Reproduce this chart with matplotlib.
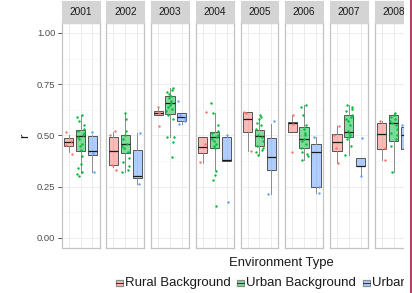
import matplotlib
matplotlib.use("Agg")
import matplotlib.pyplot as plt
from matplotlib.patches import Rectangle
from matplotlib.lines import Line2D
from matplotlib.colors import to_rgba

plt.rcParams['font.family'] = ['Liberation Sans', 'DejaVu Sans']

years = ["2001", "2002", "2003", "2004", "2005", "2006", "2007", "2008"]
groups = ["Rural Background", "Urban Background", "Urban Traffic"]
colors = ["#F8766D", "#00BA38", "#619CFF"]

# box statistics per group, one value per year
rural_q1  = [0.448, 0.356, 0.597, 0.413, 0.517, 0.515, 0.424, 0.433]
rural_med = [0.469, 0.425, 0.608, 0.442, 0.580, 0.558, 0.469, 0.505]
rural_q3  = [0.485, 0.490, 0.620, 0.493, 0.615, 0.563, 0.505, 0.558]
rural_lo  = [0.420, 0.346, 0.597, 0.364, 0.425, 0.515, 0.364, 0.380]
rural_hi  = [0.500, 0.517, 0.636, 0.493, 0.615, 0.600, 0.545, 0.570]

ub_q1  = [0.424, 0.415, 0.603, 0.437, 0.450, 0.437, 0.490, 0.474]
ub_med = [0.497, 0.460, 0.658, 0.490, 0.497, 0.482, 0.517, 0.561]
ub_q3  = [0.526, 0.500, 0.692, 0.517, 0.526, 0.539, 0.600, 0.600]
ub_lo  = [0.317, 0.323, 0.490, 0.330, 0.404, 0.380, 0.404, 0.323]
ub_hi  = [0.600, 0.610, 0.733, 0.610, 0.587, 0.647, 0.647, 0.610]

ut_q1  = [0.404, 0.290, 0.571, 0.377, 0.331, 0.250, 0.348, 0.433]
ut_med = [0.424, 0.300, 0.590, 0.380, 0.393, 0.420, 0.352, 0.500]
ut_q3  = [0.497, 0.430, 0.607, 0.493, 0.488, 0.458, 0.391, 0.542]
ut_lo  = [0.323, 0.264, 0.555, 0.377, 0.215, 0.218, 0.302, 0.430]
ut_hi  = [0.500, 0.510, 0.607, 0.500, 0.555, 0.490, 0.391, 0.560]

# individual observations (r) per group and year
rural_pts = [
    [0.518, 0.41, 0.47, 0.455],
    [0.52, 0.50, 0.355, 0.33],
    [0.636, 0.61, 0.544],
    [0.613, 0.46, 0.37],
    [0.615, 0.61, 0.424],
    [0.60, 0.555, 0.42],
    [0.545, 0.50, 0.44, 0.365],
    [0.57, 0.44, 0.38],
]
ub_pts = [
    [0.60, 0.59, 0.57, 0.55, 0.53, 0.52, 0.51, 0.50, 0.49, 0.48, 0.46, 0.45, 0.43, 0.40, 0.36, 0.34, 0.32, 0.31, 0.30],
    [0.61, 0.58, 0.52, 0.50, 0.48, 0.46, 0.45, 0.44, 0.42, 0.39, 0.37, 0.35, 0.33, 0.32],
    [0.73, 0.72, 0.71, 0.70, 0.69, 0.68, 0.67, 0.66, 0.65, 0.64, 0.63, 0.62, 0.60, 0.58, 0.49, 0.49, 0.466, 0.396],
    [0.658, 0.61, 0.55, 0.52, 0.51, 0.50, 0.49, 0.48, 0.47, 0.46, 0.45, 0.44, 0.328, 0.306, 0.283, 0.157],
    [0.60, 0.59, 0.58, 0.56, 0.55, 0.53, 0.50, 0.49, 0.47, 0.45, 0.44, 0.43, 0.42, 0.404],
    [0.65, 0.64, 0.60, 0.55, 0.53, 0.51, 0.50, 0.48, 0.47, 0.46, 0.44, 0.42, 0.41, 0.40, 0.38],
    [0.65, 0.64, 0.63, 0.62, 0.60, 0.59, 0.58, 0.57, 0.55, 0.52, 0.51, 0.50, 0.49, 0.48, 0.45, 0.404],
    [0.61, 0.60, 0.59, 0.58, 0.57, 0.56, 0.55, 0.53, 0.51, 0.50, 0.48, 0.45, 0.323],
]
ut_pts = [
    [0.517, 0.415, 0.32],
    [0.51, 0.264],
    [0.67, 0.60, 0.585, 0.57, 0.555],
    [0.50, 0.175],
    [0.57, 0.215],
    [0.49, 0.25, 0.218],
    [0.485, 0.30],
    [0.55, 0.44],
]

stats = [
    (rural_q1, rural_med, rural_q3, rural_lo, rural_hi),
    (ub_q1, ub_med, ub_q3, ub_lo, ub_hi),
    (ut_q1, ut_med, ut_q3, ut_lo, ut_hi),
]
points = [rural_pts, ub_pts, ut_pts]

# deterministic jitter pattern (style only)
JIT = [-0.22, 0.15, -0.05, 0.28, -0.30, 0.05, 0.20, -0.15, 0.10, -0.25, 0.25, 0.0, -0.10, 0.30, -0.18, 0.12]

W, H = 412, 293
fig = plt.figure(figsize=(W / 100, H / 100), dpi=100)

panel_left0 = 61.7
panel_step = 44.7
panel_w = 37.8
panel_top = 22.7
panel_bot = 248.0
strip_top = 1.0

grid_c = "#EBEBEB"
border_c = "#C4C4C4"

for i, yr in enumerate(years):
    x0 = panel_left0 + i * panel_step
    ax = fig.add_axes([x0 / W, (H - panel_bot) / H, panel_w / W, (panel_bot - panel_top) / H])
    ax.set_xlim(0.4, 3.6)
    ax.set_ylim(-0.05, 1.05)
    ax.set_yticks([0, 0.25, 0.5, 0.75, 1.0])
    ax.set_yticks([0.125, 0.375, 0.625, 0.875], minor=True)
    ax.set_xticks([1, 2, 3])
    ax.grid(True, which="major", color=grid_c, lw=0.6, zorder=0)
    ax.grid(True, which="minor", axis="y", color="#F4F4F4", lw=0.4, zorder=0)
    ax.set_axisbelow(True)
    for s in ax.spines.values():
        s.set_color(border_c)
        s.set_linewidth(0.9)
    ax.tick_params(axis="x", length=0, labelbottom=False)
    if i == 0:
        ax.tick_params(axis="y", length=3, width=0.6, color="#333333", labelsize=6.8,
                       labelcolor="#4D4D4D", pad=1.5)
        ax.set_yticklabels(["0.00", "0.25", "0.50", "0.75", "1.00"])
        ax.tick_params(axis="y", which="minor", length=0)
        ax.set_ylabel("r", fontsize=9.5, color="#1A1A1A", labelpad=4)
    else:
        ax.tick_params(axis="y", which="both", length=0, labelleft=False)

    for g in range(3):
        q1, med, q3, lo, hi = (a[i] for a in stats[g])
        st = [dict(med=med, q1=q1, q3=q3, whislo=lo, whishi=hi, fliers=[])]
        fc = to_rgba(colors[g], 0.5)
        ax.bxp(st, positions=[g + 1], widths=0.78, patch_artist=True,
               showcaps=False, showfliers=False,
               boxprops=dict(facecolor=fc, edgecolor="#555555", linewidth=0.7),
               whiskerprops=dict(color="#8C8C8C", linewidth=0.7),
               medianprops=dict(color="#1A1A1A", linewidth=0.9),
               zorder=2)
        vals = points[g][i]
        xs = [g + 1 + JIT[(k * 3 + g + i) % len(JIT)] for k in range(len(vals))]
        ax.scatter(xs, vals, s=3, color=colors[g], linewidths=0, zorder=3)

    sax = fig.add_axes([x0 / W, (H - panel_top) / H, panel_w / W, (panel_top - strip_top) / H])
    sax.set_facecolor("#D4D4D4")
    for s in sax.spines.values():
        s.set_color("#D4D4D4")
    sax.set_xticks([])
    sax.set_yticks([])
    sax.text(0.5, 0.48, yr, ha="center", va="center", fontsize=7.3, color="#1A1A1A",
             transform=sax.transAxes)

# legend
fig.text(281.5 / W, (H - 262.7) / H, "Environment Type", ha="center", va="center",
         fontsize=9.4, color="#1A1A1A")
key_x = [115.0, 236.0, 362.0]
lab_x = [125.5, 246.5, 372.5]
ly = 283.3
for g in range(3):
    kx = key_x[g]
    fig.add_artist(Rectangle(((kx) / W, (H - ly - 4.5) / H), 9 / W, 9 / H,
                             transform=fig.transFigure, facecolor="#F2F2F2", edgecolor="none"))
    fig.add_artist(Rectangle(((kx + 1) / W, (H - ly - 3) / H), 7 / W, 6 / H,
                             transform=fig.transFigure, facecolor=to_rgba(colors[g], 0.5),
                             edgecolor="#666666", linewidth=0.5))
    fig.add_artist(Line2D([(kx + 1) / W, (kx + 8) / W], [(H - ly) / H, (H - ly) / H],
                          transform=fig.transFigure, color="#333333", linewidth=0.7))
    fig.text(lab_x[g] / W, (H - ly) / H, groups[g], ha="left", va="center",
             fontsize=9.5, color="#1A1A1A")

# cropped right edge of the original image
fig.add_artist(Rectangle((404 / W, 0), 8 / W, 1, transform=fig.transFigure,
                         facecolor="white", edgecolor="none", zorder=50))
fig.add_artist(Line2D([410.5 / W, 410.5 / W], [0, 1], transform=fig.transFigure,
                      color="#9B2245", linewidth=1.2, zorder=51))

fig.savefig("out.png", dpi=100)
